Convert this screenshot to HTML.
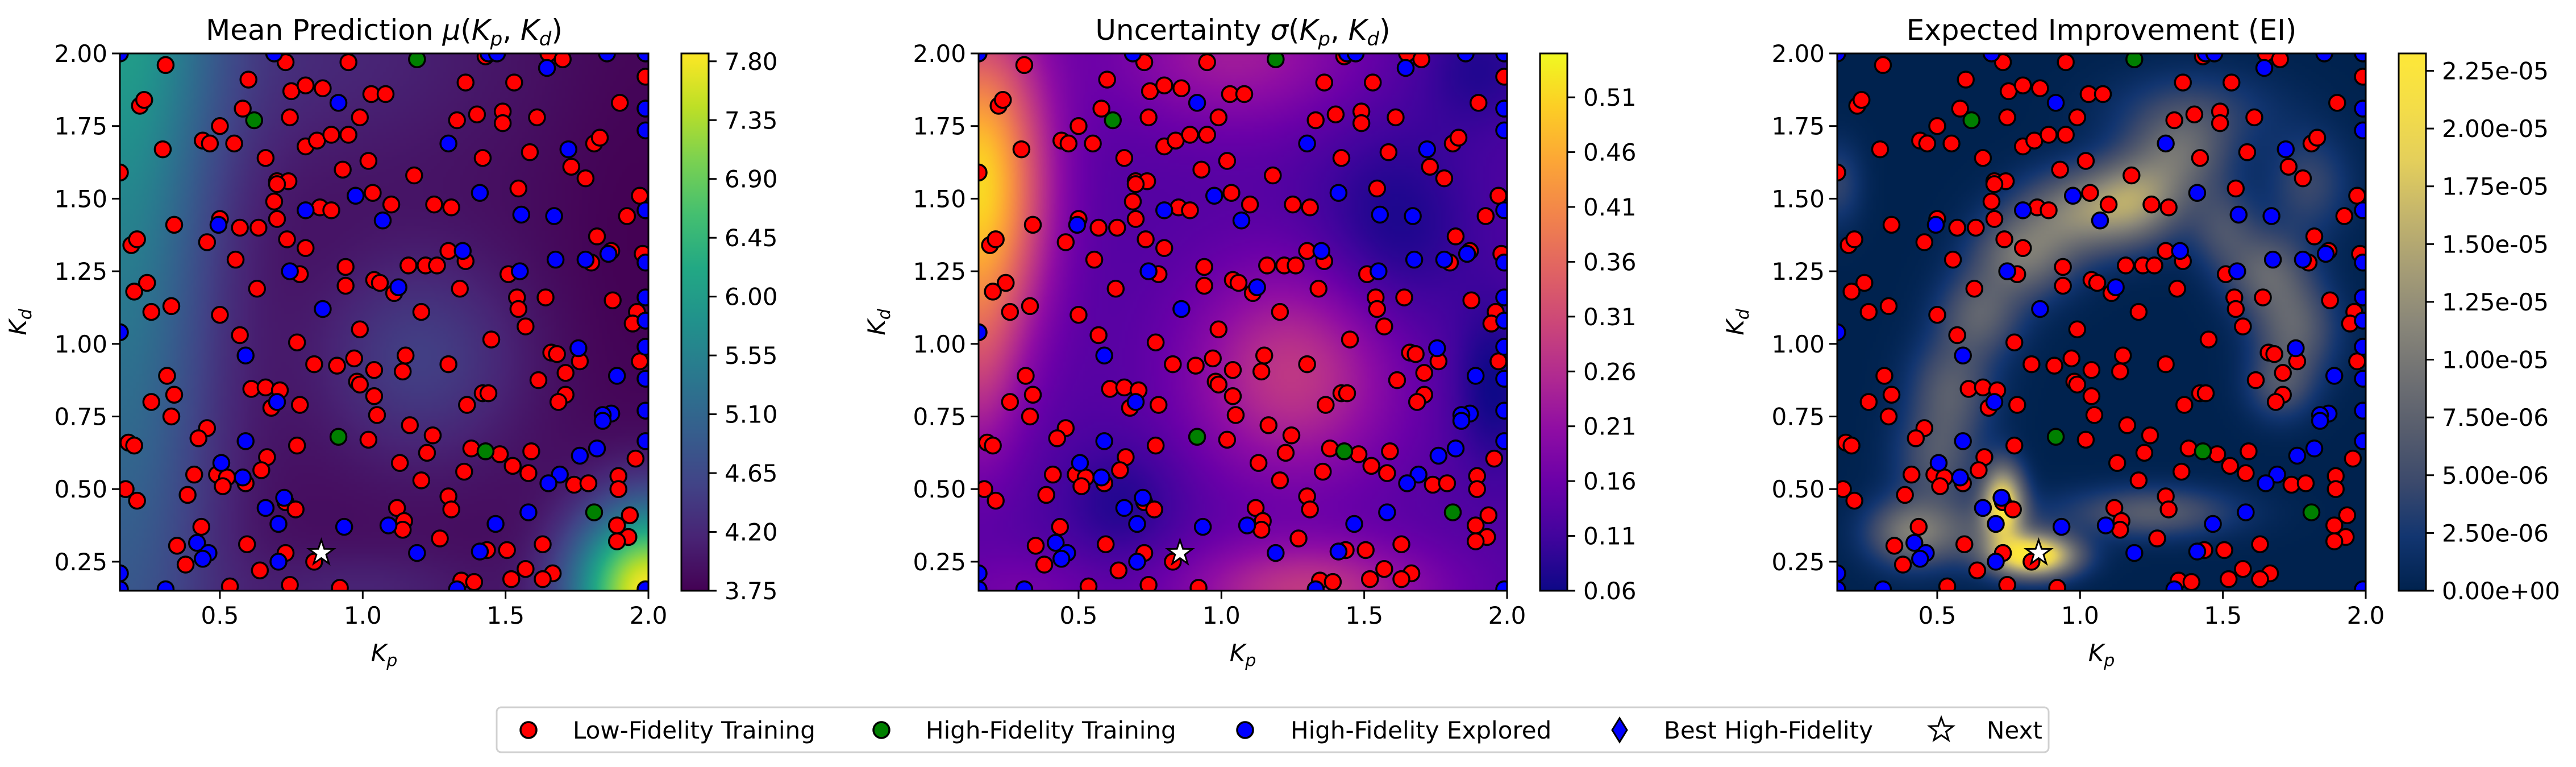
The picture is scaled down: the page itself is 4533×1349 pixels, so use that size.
<!DOCTYPE html>
<html><head><meta charset="utf-8">
<style>
body{margin:0;background:#fff;}
#root{position:relative;width:4533px;height:1349px;overflow:hidden;background:#fff;font-family:"DejaVu Sans","Liberation Sans",sans-serif;}
canvas.hm{position:absolute;width:930px;height:945px;top:94px;}
svg{position:absolute;left:0;top:0;}
</style></head>
<body>
<div id="root">
<canvas class="hm" id="hm0" width="186" height="189" style="left:211px"></canvas>
<canvas class="hm" id="hm1" width="186" height="189" style="left:1722px"></canvas>
<canvas class="hm" id="hm2" width="186" height="189" style="left:3233px"></canvas>
<svg id="svg" width="4533" height="1349" xmlns="http://www.w3.org/2000/svg"></svg>
</div>
<script>
const lowX=[0.31,0.95,0.73,1.43,1.65,1.70,0.60,0.75,0.80,0.86,1.03,1.08,1.36,1.53,1.99,0.22,0.235,0.58,0.745,0.99,1.33,1.40,1.49,1.49,1.61,1.90,0.50,0.44,0.465,0.55,0.30,0.80,0.84,0.89,0.95,1.585,1.81,1.83,0.66,1.02,1.42,0.15,0.93,1.18,1.73,1.78,0.70,0.74,0.70,1.035,1.545,1.97,0.69,0.85,0.89,1.10,1.25,1.31,1.925,0.70,0.50,0.34,0.57,0.635,0.19,0.21,0.455,0.735,0.80,1.82,0.555,1.30,1.36,1.87,1.80,1.98,0.78,0.94,1.16,1.22,1.26,1.51,0.245,0.20,0.63,0.94,1.04,1.06,1.11,1.34,1.54,1.545,1.64,1.875,0.26,0.33,0.50,1.205,1.96,1.945,0.99,1.57,0.57,0.77,1.45,1.66,1.68,1.76,1.97,0.315,0.83,0.91,0.97,1.15,1.14,1.04,1.30,1.71,0.98,0.99,0.61,0.66,0.71,1.615,0.34,0.26,1.04,1.42,1.44,1.71,1.685,0.78,0.68,1.365,0.33,1.05,1.165,0.455,0.425,1.245,0.18,0.20,0.77,1.02,1.38,1.59,1.225,0.665,1.48,1.955,1.13,0.645,1.355,1.525,1.58,0.41,0.49,0.525,0.51,0.59,1.205,1.74,1.79,1.895,1.895,0.17,0.21,0.387,1.30,0.73,0.765,1.12,1.31,1.145,1.935,0.435,1.14,1.89,1.93,1.89,1.27,0.35,0.595,1.63,0.73,1.435,1.505,0.38,0.83,0.64,1.57,1.665,1.63,1.52,1.345,1.39,0.745,0.535,0.92];
const lowY=[1.96,1.97,1.97,1.99,2.0,1.98,1.91,1.87,1.89,1.88,1.86,1.86,1.90,1.90,1.92,1.82,1.84,1.81,1.78,1.78,1.77,1.79,1.80,1.76,1.78,1.83,1.75,1.70,1.69,1.69,1.67,1.68,1.70,1.72,1.72,1.66,1.69,1.71,1.64,1.63,1.64,1.59,1.60,1.58,1.61,1.57,1.56,1.56,1.55,1.52,1.535,1.51,1.49,1.47,1.46,1.48,1.48,1.47,1.44,1.43,1.43,1.41,1.40,1.40,1.34,1.36,1.35,1.36,1.33,1.37,1.29,1.32,1.285,1.32,1.28,1.31,1.24,1.265,1.27,1.27,1.27,1.24,1.21,1.18,1.19,1.20,1.22,1.21,1.175,1.19,1.16,1.12,1.16,1.15,1.11,1.13,1.10,1.11,1.11,1.07,1.05,1.06,1.03,1.005,1.015,0.97,0.965,0.94,0.94,0.89,0.93,0.925,0.95,0.96,0.905,0.91,0.93,0.90,0.87,0.86,0.845,0.85,0.84,0.875,0.825,0.80,0.82,0.83,0.83,0.825,0.80,0.79,0.78,0.79,0.75,0.755,0.72,0.71,0.675,0.685,0.66,0.65,0.65,0.67,0.64,0.63,0.625,0.61,0.62,0.605,0.59,0.565,0.56,0.58,0.555,0.55,0.55,0.54,0.51,0.52,0.53,0.515,0.52,0.545,0.50,0.50,0.46,0.48,0.475,0.455,0.43,0.435,0.43,0.39,0.41,0.37,0.36,0.375,0.335,0.32,0.33,0.305,0.31,0.31,0.28,0.29,0.29,0.24,0.25,0.22,0.225,0.21,0.19,0.19,0.185,0.18,0.17,0.165,0.16];
const hfX=[1.19,0.62,0.915,1.43,1.81];
const hfY=[1.98,1.77,0.68,0.63,0.42];
const expX=[0.15,0.69,1.44,1.47,1.855,1.99,1.645,0.915,1.99,1.99,1.30,1.72,1.41,0.975,0.80,1.555,1.67,1.99,1.07,0.495,1.35,1.86,1.78,1.675,1.55,1.99,0.745,1.125,1.99,0.86,1.99,0.15,1.755,1.99,0.59,1.89,1.99,0.70,1.87,1.84,1.84,1.99,0.59,1.99,1.82,1.76,0.505,1.69,0.58,1.65,0.725,0.66,1.58,0.705,0.935,1.09,1.465,0.42,0.46,0.44,0.705,1.19,1.41,0.15,0.31,1.33,0.15,1.99];
const expY=[2.0,2.0,2.0,2.0,2.0,2.0,1.95,1.83,1.81,1.735,1.69,1.67,1.52,1.51,1.46,1.445,1.44,1.46,1.425,1.41,1.32,1.31,1.29,1.29,1.25,1.28,1.25,1.195,1.16,1.12,1.08,1.04,0.985,0.99,0.96,0.89,0.88,0.80,0.76,0.755,0.735,0.77,0.665,0.665,0.64,0.615,0.59,0.55,0.54,0.52,0.47,0.435,0.42,0.38,0.37,0.375,0.38,0.315,0.28,0.26,0.25,0.28,0.285,0.21,0.155,0.155,0.155,0.155];
const nextPt=[0.855,0.28];
const xTicks=[0.5,1.0,1.5,2.0];
const yTicks=[0.25,0.5,0.75,1.0,1.25,1.5,1.75,2.0];
const cb0Ticks=[3.75,4.20,4.65,5.10,5.55,6.00,6.45,6.90,7.35,7.80];
const cb1Ticks=[0.06,0.11,0.16,0.21,0.26,0.31,0.36,0.41,0.46,0.51];
const cb2Ticks=[0,2.5e-6,5e-6,7.5e-6,1e-5,1.25e-5,1.5e-5,1.75e-5,2e-5,2.25e-5];
const legendLabels=["Low-Fidelity Training","High-Fidelity Training","High-Fidelity Explored","Best High-Fidelity","Next"];

const NS="http://www.w3.org/2000/svg";
const svg=document.getElementById('svg');
const XMIN=0.15,XMAX=2.0,YMIN=0.15,YMAX=2.0,TOP=94,W=930,H=945;
const lefts=[211,1722,3233];
function sx(L,v){return L+(v-XMIN)/(XMAX-XMIN)*W;}
function sy(v){return TOP+(YMAX-v)/(YMAX-YMIN)*H;}
function mk(tag,attrs,parent){const e=document.createElementNS(NS,tag);for(const k in attrs)e.setAttribute(k,attrs[k]);(parent||svg).appendChild(e);return e;}

const viridis=["#440154","#482475","#414487","#355f8d","#2a788e","#21918c","#22a884","#44bf70","#7ad151","#bddf26","#fde725"];
const plasma=["#0d0887","#41049d","#6a00a8","#8f0da4","#b12a90","#cc4778","#e16462","#f2844b","#fca636","#fcce25","#f0f921"];
const cividis=["#00224e","#123570","#3b496c","#575d6d","#707173","#8a8779","#a69d75","#c4b56c","#e4cf5b","#f4dd48","#fee838"];
function hex(h){return [parseInt(h.substr(1,2),16),parseInt(h.substr(3,2),16),parseInt(h.substr(5,2),16)];}
function cmap(stops,t){t=Math.max(0,Math.min(1,t));const f=t*(stops.length-1);const i=Math.min(stops.length-2,Math.floor(f));const u=f-i;const a=hex(stops[i]),b=hex(stops[i+1]);return [a[0]+(b[0]-a[0])*u,a[1]+(b[1]-a[1])*u,a[2]+(b[2]-a[2])*u];}
function g(x,y,cx,cy,sX,sY){return Math.exp(-((x-cx)*(x-cx)/(2*sX*sX)+(y-cy)*(y-cy)/(2*sY*sY)));}
function meanF(x,y){return 3.85+2.0*(0.5+0.5*(y-0.15)/1.85)*Math.exp(-(x-0.15)*(x-0.15)/(2*0.24*0.24))+0.35*g(x,y,0.8,2.0,0.5,0.3)+0.65*g(x,y,1.2,0.95,0.25,0.25)+4.0*g(x,y,2.0,0.15,0.18,0.2)+0.3*g(x,y,1.0,0.15,0.3,0.1)-0.1*g(x,y,1.95,1.4,0.2,0.6);}
function sigF(x,y){return 0.13+0.38*g(x,y,0.15,1.55,0.16,0.38)+0.08*g(x,y,0.15,0.9,0.1,0.25)+0.15*g(x,y,1.25,0.9,0.25,0.25)+0.15*g(x,y,1.3,0.15,0.3,0.12)+0.1*g(x,y,1.05,2.0,0.3,0.18)+0.04*g(x,y,0.3,0.15,0.2,0.1)-0.06*g(x,y,1.6,1.4,0.2,0.25)-0.07*g(x,y,1.95,0.85,0.1,0.2)-0.05*g(x,y,0.65,0.45,0.15,0.15)-0.05*g(x,y,1.9,1.95,0.15,0.15);}
const eiBlobs=[[0.84,0.27,0.1,0.05,2.3],[0.73,0.45,0.05,0.09,2.0],[0.62,0.35,0.18,0.08,0.5],[0.4,0.35,0.1,0.08,0.8],[0.5,0.6,0.1,0.12,0.6],[0.55,0.85,0.1,0.12,0.65],[0.65,1.1,0.1,0.1,0.7],[0.8,1.3,0.12,0.1,0.9],[1.0,1.45,0.15,0.1,1.0],[1.2,1.5,0.12,0.1,1.05],[1.35,1.65,0.12,0.1,0.7],[1.5,1.4,0.08,0.1,0.5],[1.65,1.25,0.1,0.1,0.7],[1.75,1.05,0.1,0.12,0.75],[1.7,0.85,0.08,0.08,0.5],[1.25,0.42,0.2,0.06,0.7],[1.8,1.55,0.1,0.12,0.45],[0.15,1.55,0.06,0.1,0.4],[1.4,1.8,0.2,0.1,0.4]];
function eiF(x,y){let s=0;for(const b of eiBlobs)s+=b[4]*g(x,y,b[0],b[1],b[2],b[3]);return Math.min(s,2.3)*1e-5;}
const panels=[
 {f:meanF,cm:viridis,lo:3.75,hi:7.86,ticks:cb0Ticks,fmt:v=>v.toFixed(2),title:'Mean Prediction <tspan font-style="italic">μ</tspan>(<tspan font-style="italic">K</tspan><tspan font-style="italic" font-size="34" dy="10">p</tspan><tspan dy="-10">, </tspan><tspan font-style="italic">K</tspan><tspan font-style="italic" font-size="34" dy="10">d</tspan><tspan dy="-10">)</tspan>',name:'mean'},
 {f:sigF,cm:plasma,lo:0.06,hi:0.55,ticks:cb1Ticks,fmt:v=>v.toFixed(2),title:'Uncertainty <tspan font-style="italic">σ</tspan>(<tspan font-style="italic">K</tspan><tspan font-style="italic" font-size="34" dy="10">p</tspan><tspan dy="-10">, </tspan><tspan font-style="italic">K</tspan><tspan font-style="italic" font-size="34" dy="10">d</tspan><tspan dy="-10">)</tspan>',name:'uncertainty'},
 {f:eiF,cm:cividis,lo:0,hi:2.325e-5,ticks:cb2Ticks,fmt:v=>{let s=v.toExponential(2);let [m,e]=s.split('e');let sign=e[0]==='-'?'-':'+';let d=Math.abs(parseInt(e));return m+'e'+sign+(d<10?'0':'')+d;},title:'Expected Improvement (EI)',name:'ei'}
];
const defs=mk('defs',{});
panels.forEach((p,pi)=>{
  const L=lefts[pi];
  const cv=document.getElementById('hm'+pi);const ctx=cv.getContext('2d');const img=ctx.createImageData(186,189);
  for(let j=0;j<189;j++)for(let i=0;i<186;i++){const x=XMIN+(i+0.5)/186*(XMAX-XMIN),y=YMAX-(j+0.5)/189*(YMAX-YMIN);const c=cmap(p.cm,(p.f(x,y)-p.lo)/(p.hi-p.lo));const k=(j*186+i)*4;img.data[k]=c[0];img.data[k+1]=c[1];img.data[k+2]=c[2];img.data[k+3]=255;}
  ctx.putImageData(img,0,0);
  const cp=mk('clipPath',{id:'clip'+pi},defs);mk('rect',{x:L,y:TOP,width:W,height:H},cp);
  const grp=mk('g',{'clip-path':'url(#clip'+pi+')'});
  
  
  lowX.forEach((v,i)=>{const c=mk('circle',{cx:sx(L,v),cy:sy(lowY[i]),r:14,fill:'#ff0000',stroke:'#000','stroke-width':3.5},grp);
    
    });
  hfX.forEach((v,i)=>{const c=mk('circle',{cx:sx(L,v),cy:sy(hfY[i]),r:14,fill:'#008000',stroke:'#000','stroke-width':3.5},grp);
    
    });
  expX.forEach((v,i)=>{const c=mk('circle',{cx:sx(L,v),cy:sy(expY[i]),r:14,fill:'#0000ff',stroke:'#000','stroke-width':3.5},grp);
    
    });
  const cx=sx(L,nextPt[0]),cy=sy(nextPt[1]);let pts=[];for(let k=0;k<10;k++){const r=k%2?9:23;const a=-Math.PI/2+k*Math.PI/5;pts.push((cx+r*Math.cos(a)).toFixed(1)+','+(cy+r*Math.sin(a)).toFixed(1));}
  const st=mk('polygon',{points:pts.join(' '),fill:'#fff',stroke:'#000','stroke-width':3},grp);
  
  
  const fr=mk('rect',{x:L,y:TOP,width:W,height:H,fill:'none',stroke:'#000','stroke-width':3});
  
  
  xTicks.forEach(t=>{const X=sx(L,t);mk('line',{x1:X,x2:X,y1:TOP+H,y2:TOP+H+14,stroke:'#000','stroke-width':3});
    const tx=mk('text',{x:X,y:TOP+H+58,'font-size':42,'text-anchor':'middle'});tx.textContent=t.toFixed(1);
    
    });
  yTicks.forEach(t=>{const Y=sy(t);mk('line',{x1:L-14,x2:L,y1:Y,y2:Y,stroke:'#000','stroke-width':3});
    const tx=mk('text',{x:L-22,y:Y+15,'font-size':42,'text-anchor':'end'});tx.textContent=t.toFixed(2);
    
    });
  const xl=mk('text',{x:L+W/2,y:1163,'font-size':42,'text-anchor':'middle','font-style':'italic'});xl.innerHTML='K<tspan font-size="30" dy="9">p</tspan>';
  
  
  const yl=mk('text',{x:0,y:0,'font-size':42,'text-anchor':'middle','font-style':'italic',transform:'translate('+(L-165)+','+(TOP+H/2)+') rotate(-90)'});yl.innerHTML='K<tspan font-size="30" dy="9">d</tspan>';
  
  
  const ti=mk('text',{x:L+W/2,y:70,'font-size':50,'text-anchor':'middle'});ti.innerHTML=p.title;
  
  
  const CL=L+W+58,CW=48;
  const lg=mk('linearGradient',{id:'cbg'+pi,x1:0,y1:1,x2:0,y2:0},defs);
  p.cm.forEach((c,k)=>mk('stop',{offset:k/(p.cm.length-1),'stop-color':c},lg));
  const cb=mk('rect',{x:CL,y:TOP,width:CW,height:H,fill:'url(#cbg'+pi+')',stroke:'#000','stroke-width':3});
  
  
  p.ticks.forEach(t=>{const Y=TOP+H-(t-p.lo)/(p.hi-p.lo)*H;mk('line',{x1:CL+CW,x2:CL+CW+14,y1:Y,y2:Y,stroke:'#000','stroke-width':3});
    const tx=mk('text',{x:CL+CW+28,y:Y+15,'font-size':42});tx.textContent=p.fmt(t);
    
    });
});
const lgG=mk('g',{});


mk('rect',{x:874,y:1244,width:2731,height:79,rx:8,fill:'#fff',stroke:'#d0d0d0','stroke-width':3},lgG);
const mx=[930,1551,2191,2850,3416],tx0=[1008,1629,2271,2928,3496],fills=['#ff0000','#008000','#0000ff','#0000ff','#fff'];
legendLabels.forEach((lab,i)=>{const e=mk('g',{},lgG);
  
  
  const Y=1284;
  if(i<3)mk('circle',{cx:mx[i],cy:Y,r:14,fill:fills[i],stroke:'#000','stroke-width':3.5},e);
  else if(i===3)mk('polygon',{points:`${mx[i]},${Y-21} ${mx[i]+13},${Y} ${mx[i]},${Y+21} ${mx[i]-13},${Y}`,fill:'#0000ff',stroke:'#000','stroke-width':3},e);
  else{let pts=[];for(let k=0;k<10;k++){const r=k%2?9:22;const a=-Math.PI/2+k*Math.PI/5;pts.push((mx[i]+r*Math.cos(a)).toFixed(1)+','+(Y+r*Math.sin(a)).toFixed(1));}mk('polygon',{points:pts.join(' '),fill:'#fff',stroke:'#000','stroke-width':3},e);}
  const t=mk('text',{x:tx0[i],y:Y+15,'font-size':42},e);t.textContent=lab;});
</script>
</body></html>
